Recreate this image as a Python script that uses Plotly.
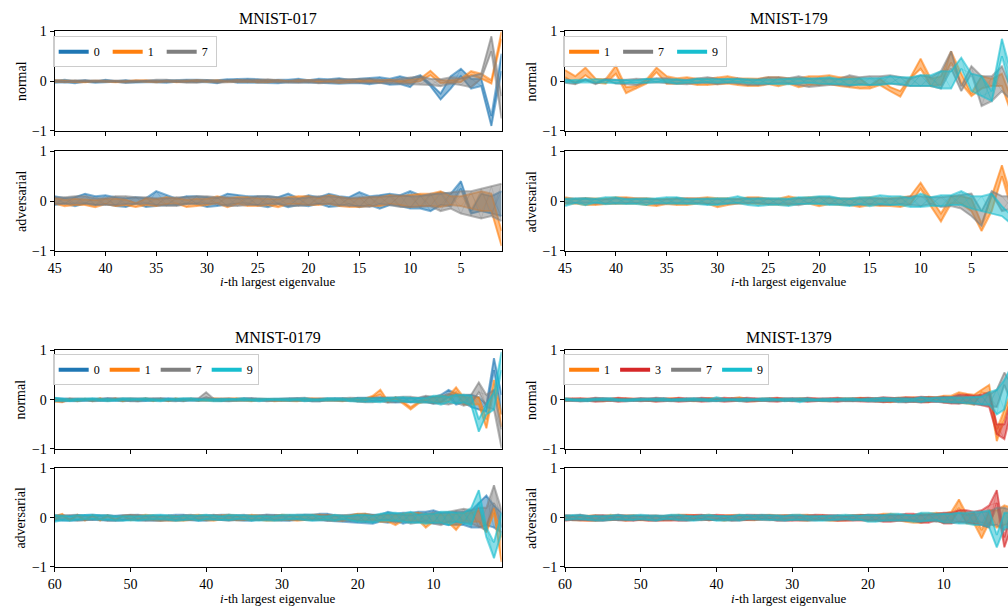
import plotly.graph_objects as go

W, H = 1008, 614
COL = {'0': '#1f77b4', '1': '#ff7f0e', '3': '#d62728', '7': '#7f7f7f', '9': '#17becf'}
FONT = 'Liberation Serif, Times New Roman, serif'

# eigenvalue index (i-th largest), left to right
X45 = list(range(45, 0, -1))
X60 = list(range(60, 0, -1))

# ---- MNIST-017 (values in hundredths) ----
A_N_0A = [-3,-2,-4,-1,-3, -2,0,-3,-1,-2, 1,-3,2,-1,3, -2,2,4,-3,5, -3,2,-4,3,-2, 2,-3,4,-5,3, -4,6,-3,5,-6, 5,8,-10,-37,-15, 25,5,-10,-90,55]
A_N_0B = [1,3,0,2,-1, 3,-1,2,-2,1, -2,2,-1,3,-2, 3,-4,1,5,-3, 4,-3,3,-2,5, -3,5,-4,6,-4, 5,-6,8,-7,10, -12,12,-5,-25,10, 10,-15,5,-70,20]
A_N_1A = [2,-1,1,-2,0, 1,-2,0,2,-1, 0,1,-2,1,0, -1,2,-1,0,1, -2,1,0,-1,2, 0,-2,1,-3,2, 1,-1,2,0,-2, 3,5,21,2,-3, 5,12,15,-5,100]
A_N_1B = [-1,1,-2,0,1, -1,1,-1,0,2, -2,0,1,-1,2, 1,-1,0,2,-1, 1,-2,2,0,-1, 2,1,-1,2,-2, -1,2,-2,3,1, -3,0,12,-4,2, -2,20,5,2,85]
A_N_7A = [0,-2,2,-1,1, -2,1,-3,2,0, -2,3,-1,-3,2, 0,-3,2,-1,3, -2,4,-2,1,-3, 2,-4,3,-2,4, -3,5,-4,2,-5, 8,-6,5,-10,8, -8,10,15,90,-75]
A_N_7B = [2,0,-1,2,-2, 1,-1,2,-2,1, 3,-2,1,2,-3, 2,1,-2,3,-1, 3,-1,2,-3,2, -2,3,-3,4,-2, 4,-3,3,-4,5, -6,10,-8,4,-5, 6,-12,5,60,-30]
A_A_0A = [10,-5,8,15,-8, 12,-10,6,8,-12, 20,-8,5,10,-6, 8,-10,15,12,-5, 10,-12,8,15,-8, 12,-5,15,-10,8, 18,-8,12,15,-10, 20,-15,12,18,-10, 40,-20,15,10,-30]
A_A_0B = [-8,6,-10,-5,10, -6,8,-12,-5,6, -10,12,-8,-5,10, -12,6,-8,-5,10, -8,10,-6,-12,6, -10,8,-12,10,-6, -12,10,-15,-8,12, -15,12,-20,-8,15, 25,-25,-20,-25,20]
A_A_1A = [-5,-10,5,-8,-12, 5,-10,-8,-12,6, -10,8,-5,-12,5, -8,10,-12,-6,8, -10,5,-12,8,-6, 10,-8,12,-10,5, -12,8,-10,12,-8, -12,15,-10,20,-8, 10,-15,20,-20,-90]
A_A_1B = [6,3,-8,4,2, -6,5,3,-4,-8, 4,-6,6,3,-10, 5,-4,6,8,-10, 6,-8,4,-6,10, -8,6,-5,8,-12, 6,-10,8,-6,10, 12,-10,15,-12,10, -10,15,-20,15,-60]
A_A_7A = [8,-6,10,-5,6, -8,10,-6,8,-5, 6,-10,8,-6,10, -5,8,-10,6,-8, 10,-6,8,-10,5, -8,10,-6,8,-10, 8,-12,10,-8,12, 10,-12,15,-20,18, -25,20,-35,30,-40]
A_A_7B = [-6,8,-5,10,-8, 6,-8,10,-6,8, -8,6,-10,8,-5, 10,-6,8,-10,6, -8,10,-5,6,-10, 8,-6,10,-8,6, -10,8,-6,10,-12, -12,10,-10,15,-15, 20,-30,25,-30,35]

# ---- MNIST-179 ----
B_N_1A = [22,10,27,5,-5, 31,-24,-10,-5,27, 10,-5,8,-8,5, -6,10,-8,5,-10, 8,-10,6,-12,10, -8,12,-10,8,-15, -10,-8,-20,-31,5, 45,-10,10,37,15, -30,-15,5,-10,-70]
B_N_1B = [8,-5,12,-3,4, 15,-12,-15,3,18, -5,6,-4,5,-8, 8,-5,6,-10,5, -6,8,-5,6,-8, 10,-6,8,-12,6, -15,5,-12,-20,8, 25,5,-8,60,-5, -25,10,-10,15,-40]
B_N_7A = [-3,-6,2,-4,5, -5,3,-8,4,-2, 6,-5,3,-4,8, 5,-3,6,-8,4, -6,8,-4,10,-12, 6,-8,5,-10,8, 10,-6,12,-8,5, -10,8,-15,60,-10, 30,-50,10,-20,-40]
B_N_7B = [5,-2,4,-6,2, 3,-6,5,-3,6, -4,3,-6,5,-3, -6,4,-5,3,-8, 8,-4,6,-8,5, -10,6,-8,12,-6, -8,10,-5,8,-10, 12,-10,20,25,-20, 15,10,-40,30,-20]
B_N_9A = [2,-3,4,-2,3, -4,2,-3,5,-2, 3,-5,2,-3,4, -3,5,-2,4,-5, 3,-6,5,-4,6, -5,8,-6,5,-8, 6,-8,10,-6,8, -10,12,-15,20,47, -20,10,-40,85,-30]
B_N_9B = [-2,3,-2,4,-3, 3,-4,2,-3,4, -2,4,-3,5,-2, 4,-3,5,-4,3, -5,4,-6,5,-3, 6,-5,4,-8,6, -8,6,-5,8,-10, 12,-10,20,-15,25, 15,-30,-20,50,10]
B_A_1A = [8,-5,6,-8,5, -6,8,-5,6,-10, 5,-8,6,-5,8, -12,6,-5,8,-6, 5,-8,10,-6,8, -10,6,-8,5,-12, 8,-10,6,-12,10, 37,-10,-41,10,-5, -20,-60,10,72,-20]
B_A_1B = [-6,4,-8,5,-6, 8,-5,6,-8,4, -6,5,-8,6,-5, 6,-8,4,-5,8, -6,5,-8,6,-5, 8,-6,5,-8,6, -8,6,-10,8,-6, 25,5,-25,-5,10, 5,-45,-20,50,5]
B_A_7A = [5,-3,6,-5,4, -5,6,-4,5,-6, 4,-5,6,-4,5, -6,4,-5,6,-4, 5,-6,4,-8,6, -5,8,-6,5,-8, 6,-8,5,-6,10, -10,8,-12,10,-15, -30,-50,15,-20,10]
B_A_7B = [-4,5,-3,4,-5, 6,-4,5,-3,4, -5,6,-4,5,-6, 4,-6,5,-4,6, -6,4,-5,6,-4, 8,-5,6,-8,5, -6,5,-8,6,-8, 10,-6,8,-10,12, 15,-20,20,10,-15]
B_A_9A = [-10,6,-8,5,-6, 8,-6,5,-8,6, -5,8,-6,5,-8, 6,-5,10,-8,6, -8,6,-10,8,-6, 10,-8,6,-10,8, -10,12,-8,10,-12, 15,-10,12,-8,20, -15,10,-25,-30,-47]
B_A_9B = [5,-4,6,-3,8, -5,4,-6,5,-4, 8,-5,4,-6,5, -8,6,-4,5,-10, 6,-8,5,-6,8, -6,10,-8,5,-6, 8,-6,10,-8,6, -12,8,-10,12,-8, 10,-20,15,-10,-30]

# ---- MNIST-0179 ----
C_N_0A = [3,-2,2,-3,1,-2,3,-1,2,-3, 2,-3,1,-2,3,-1,2,-3,1,-2, 3,-2,1,-3,2,-1,3,-2,2,-1, -2,3,-1,2,-3,2,-1,3,-2,1, -3,4,-2,5,-4,3,-5,4,-3,6, 5,-5,20,-10,8,-15,-20,-10,84,10]
C_N_0B = [-1,2,-3,1,-2,2,-1,3,-2,1, -2,1,-3,2,-1,3,-2,1,-1,2, -1,2,-3,1,-2,3,-2,1,-1,2, 2,-1,3,-2,1,-3,2,-2,3,-1, 4,-3,5,-2,3,-6,4,-5,3,-4, -8,10,5,12,-6,10,5,-25,60,-30]
C_N_1A = [-4,-3,2,-2,1,-3,2,-1,3,-2, 1,-2,3,-1,2,-3,1,-2,2,-1, -2,3,-1,2,-2,1,-3,2,-1,2, 1,-2,2,-1,3,-2,1,-2,2,-1, -3,2,5,20,-3,5,-4,-20,-8,3, -6,8,-4,25,-10,5,-10,-58,40,-55]
C_N_1B = [2,-5,1,-3,2,-1,3,-2,1,-3, 2,-1,2,-3,1,-2,3,-1,1,-2, 1,-2,2,-1,3,-2,1,-1,2,-3, -2,1,-3,2,-1,2,-2,1,-3,2, 2,-3,8,10,-5,3,-8,-15,-5,-3, 5,-5,8,15,5,-10,5,-40,20,-30]
C_N_7A = [-2,-4,3,-1,2,-3,1,-2,3,-1, -3,2,-1,3,-2,1,-3,2,-1,3, 15,-1,3,-2,1,-2,3,-1,2,-2, -1,3,-2,4,-3,2,-1,3,-2,4, -4,3,-5,4,-6,5,-3,6,-5,8, -8,6,-10,8,-12,10,35,-15,20,-98]
C_N_7B = [3,1,-2,2,-1,2,-2,3,-1,2, 2,-3,2,-1,3,-2,2,-1,3,-2, 5,2,-2,3,-2,3,-1,2,-3,1, 2,-2,3,-1,2,-3,2,-2,3,-2, 3,-5,4,-3,5,-4,6,-5,4,-6, 6,-8,12,-6,10,-8,15,10,-20,-60]
C_N_9A = [4,-2,-3,2,-1,3,-2,1,-2,3, -1,2,-2,1,-3,2,-1,3,-2,1, -2,1,-3,2,-1,3,-2,2,-1,2, 1,-2,2,-3,1,-2,3,-1,2,-3, 3,-4,2,-5,4,-3,5,-6,4,-5, 8,-10,6,-8,10,-12,-65,-30,-20,97]
C_N_9B = [-3,2,1,-2,3,-1,2,-3,1,-1, 2,-1,3,-2,1,-1,2,-2,3,-1, 1,-3,2,-1,2,-2,1,-3,2,-1, -2,2,-1,3,-2,1,-2,3,-1,2, -4,3,-4,3,-2,5,-4,4,-6,3, -6,8,-5,10,-6,8,-40,-10,15,60]
C_A_0A = [5,-6,4,-5,6,-4,5,-6,4,-5, 6,-5,4,-6,5,-4,6,-5,4,-6, 5,-4,6,-5,4,-6,5,-4,6,-5, -6,5,-4,6,-5,8,-6,5,-8,6, 8,-10,6,-8,12,-6,10,-8,12,-10, 15,-12,10,-15,12,-20,30,45,-20,10]
C_A_0B = [-5,4,-6,5,-4,6,-5,4,-6,5, -4,6,-5,4,-6,5,-4,6,-5,4, -6,5,-4,6,-5,4,-6,5,-4,6, 5,-6,4,-5,6,-5,8,-6,5,-8, -10,8,-12,6,-10,8,-12,10,-8,12, -12,10,-15,12,-15,15,-20,-15,25,-30]
C_A_1A = [3,8,-5,4,-6,5,-4,3,-5,4, -5,4,-3,5,-6,4,-5,3,-4,6, 4,-6,5,-3,4,-5,6,-4,3,-5, -4,5,-6,4,-3,6,-5,4,-6,5, 8,-6,5,-8,6,-15,8,-6,10,-20, 8,-10,6,-25,10,-8,15,-30,10,-90]
C_A_1B = [-4,3,-5,6,-4,3,-6,5,-4,3, 5,-3,6,-4,3,-5,4,-6,5,-3, -5,4,-3,6,-5,3,-4,5,-6,4, 6,-4,3,-5,6,-4,5,-6,4,-3, -6,8,-4,6,-8,5,-6,8,-5,6, -8,6,-10,8,-6,10,-8,-15,20,-40]
C_A_7A = [-4,5,-3,6,-5,4,-3,5,-6,4, -3,5,-6,4,-5,3,-6,5,-4,3, 5,-3,4,-6,5,-4,3,-5,6,-4, 3,-5,6,-4,5,-3,6,-5,4,-6, 5,-8,6,-5,8,-10,6,-12,8,-6, 10,-15,12,-10,18,-12,20,-25,66,-20]
C_A_7B = [4,-3,5,-6,3,-5,4,-6,3,-5, 6,-4,3,-5,4,-6,3,-4,6,-5, -4,6,-5,3,-4,6,-5,4,-3,5, -5,4,-3,6,-4,5,-6,4,-5,3, -6,5,-8,6,-4,8,-6,5,-10,8, -12,10,-8,15,-10,15,-18,20,30,15]
C_A_9A = [-8,4,-6,5,-3,6,-4,5,-6,3, 4,-6,5,-3,6,-4,3,-5,4,-6, -3,5,-4,6,-3,5,-6,4,-5,3, 6,-3,5,-4,6,-5,3,-6,4,-5, -8,6,-10,8,-6,10,-8,12,-10,8, -10,12,-15,10,-12,20,56,-20,-82,-30]
C_A_9B = [5,-5,3,-4,6,-3,5,-4,3,-6, -5,3,-4,6,-3,5,-6,4,-3,5, 6,-4,3,-5,6,-3,4,-5,3,-6, -4,6,-3,5,-6,3,-4,6,-3,4, 6,-8,4,-6,10,-6,8,-10,6,-12, 8,-10,12,-8,10,-15,30,-40,-50,10]

# ---- MNIST-1379 ----
D_N_1A = [-3,2,-1,2,-3,1,-2,3,-1,2, -2,1,-3,2,-1,3,-2,1,-2,3, -1,2,-2,5,-3,1,-2,3,-1,2, -2,3,-1,2,-3,2,-1,3,-2,4, 3,-4,2,-5,4,-3,5,-4,6,5, 8,-5,15,-8,10,20,30,-84,-20,10]
D_N_1B = [2,-1,3,-2,1,-3,2,-1,3,-1, 1,-3,2,-1,3,-2,1,-3,2,-1, 2,-1,3,-2,2,-3,2,-1,3,-2, 1,-2,3,-2,1,-3,2,-2,3,-1, -2,3,-4,3,-2,5,-4,3,-5,2, -5,8,-6,12,-10,15,10,-60,-40,20]
D_N_3A = [2,-3,3,-2,4,-3,2,-4,3,-2, 3,-2,4,-3,2,-4,3,-2,4,-3, 2,-4,3,-2,4,-3,2,-3,4,-2, 3,-2,4,-3,2,-3,4,-2,3,-4, 4,-3,5,-4,3,-5,4,-6,5,-4, 6,-8,10,-6,8,-12,15,-50,-80,10]
D_N_3B = [-2,3,-3,2,-4,3,-2,4,-3,2, -3,2,-4,3,-2,4,-3,2,-4,3, -2,4,-3,2,-4,3,-2,3,-4,2, -3,2,-4,3,-2,3,-4,2,-3,4, -4,3,-5,4,-3,5,-4,6,-5,4, -6,5,-8,10,-8,10,-15,-70,-50,-20]
D_N_7A = [-1,2,-3,1,-2,3,-1,2,-2,1, -2,3,-1,2,-3,1,-2,3,-1,2, -3,1,-2,3,-1,2,-3,1,-2,3, -1,2,-3,1,-2,3,-2,1,-3,2, -3,2,-4,3,-5,4,-3,5,-4,6, -6,5,-8,6,-10,8,-12,20,55,30]
D_N_7B = [2,-1,2,-2,3,-1,2,-3,1,-2, 3,-1,2,-2,1,-3,2,-1,3,-2, 1,-2,3,-1,2,-2,1,-3,2,-1, 3,-2,1,-2,3,-1,2,-3,2,-1, 3,-4,2,-3,4,-5,3,-4,5,-3, 5,-6,8,-5,6,-10,10,-15,30,-10]
D_N_9A = [3,-2,1,-3,2,-1,3,-2,1,-2, 2,-1,3,-2,1,-2,3,-1,2,-3, 5,-2,1,-3,2,-1,3,-2,1,-3, 2,-5,3,-2,1,-3,2,-1,3,-2, 2,-3,4,-2,3,-4,2,-5,3,-4, 5,-6,4,-8,6,-10,15,-30,40,70]
D_N_9B = [-2,1,-2,2,-1,3,-2,1,-3,2, -1,2,-2,3,-1,2,-1,3,-2,1, -3,2,-1,2,-3,1,-2,3,-1,2, -2,3,-2,1,-3,2,-1,3,-2,1, -3,4,-2,3,-4,2,-3,5,-2,4, -4,5,-6,5,-8,6,-10,20,-20,50]
D_A_1A = [4,-5,3,-6,5,-4,6,-3,5,-4, -5,4,-6,3,-5,6,-4,5,-3,6, 4,-6,5,-4,3,-5,6,-4,5,-3, -4,5,-6,4,-5,3,-6,5,-4,6, 5,-6,8,-5,6,-8,5,-10,8,-6, 8,-10,37,-12,10,-42,15,-20,25,-10]
D_A_1B = [-4,3,-5,4,-6,3,-5,4,-6,5, 3,-5,4,-6,5,-3,6,-4,5,-5, -3,5,-4,6,-5,4,-3,6,-4,5, 5,-4,6,-3,5,-6,4,-5,6,-4, -6,5,-6,8,-5,6,-10,8,-6,10, -10,12,20,8,-12,-25,-10,15,-15,20]
D_A_3A = [-6,4,-5,3,-6,5,-4,6,-5,4, 5,-6,4,-5,3,-6,5,-4,6,-5, -4,5,-6,4,-5,6,-3,5,-6,4, 5,-6,4,-5,6,-4,5,-6,4,-5, -5,6,-8,5,-6,8,-6,5,-10,8, -12,10,-8,15,-12,15,-20,56,-40,20]
D_A_3B = [5,-4,6,-5,4,-6,3,-5,4,-6, -4,5,-6,3,-5,4,-6,5,-3,4, 6,-3,4,-5,6,-4,5,-3,4,-6, -6,4,-5,6,-4,5,-6,3,-5,6, 6,-5,6,-8,5,-6,8,-10,6,-5, 10,-12,15,-10,12,-15,25,30,-60,-15]
D_A_7A = [3,-5,4,-3,5,-4,3,-5,4,-3, -4,3,-5,4,-3,5,-4,3,-5,4, 3,-5,4,-3,5,-4,3,-5,4,-3, -5,4,-3,5,-4,3,-5,4,-3,5, 4,-6,5,-4,6,-5,4,-6,5,-8, -6,8,-10,6,-8,12,-15,20,-25,15]
D_A_7B = [-3,4,-5,3,-4,5,-3,4,-5,3, 4,-5,3,-4,5,-3,4,-5,3,-4, -5,3,-4,5,-3,4,-5,3,-4,5, 4,-3,5,-4,3,-5,4,-3,5,-4, -5,4,-6,5,-4,6,-5,8,-6,5, 8,-6,10,-8,6,-10,12,-15,20,-20]
D_A_9A = [5,-3,6,-5,4,-6,5,-3,4,-5, 6,-4,5,-3,6,-5,4,-6,5,-3, -6,4,-5,6,-3,5,-4,6,-5,3, 6,-5,3,-6,4,-5,6,-3,5,-4, -8,5,-6,8,-5,6,-8,10,-6,8, -10,8,-12,10,-15,12,-20,-60,-20,10]
D_A_9B = [-5,6,-3,4,-6,3,-5,6,-4,5, -3,5,-6,4,-3,6,-5,3,-4,6, 4,-5,3,-6,5,-3,6,-4,5,-6, -4,6,-5,3,-6,4,-3,6,-5,4, 6,-8,5,-6,8,-6,5,-8,10,-5, 8,-10,10,-12,12,-15,15,-35,10,-20]

TITLES = ['MNIST-017', 'MNIST-179', 'MNIST-0179', 'MNIST-1379']
CLASSES = [['0', '1', '7'], ['1', '7', '9'], ['0', '1', '7', '9'], ['1', '3', '7', '9']]
XTICKS_45 = [45, 40, 35, 30, 25, 20, 15, 10, 5]
XTICKS_60 = [60, 50, 40, 30, 20, 10]

PANELS = [
    dict(x=X45, ticks=XTICKS_45,
         normal={'0': (A_N_0A, A_N_0B), '1': (A_N_1A, A_N_1B), '7': (A_N_7A, A_N_7B)},
         adv={'0': (A_A_0A, A_A_0B), '1': (A_A_1A, A_A_1B), '7': (A_A_7A, A_A_7B)}),
    dict(x=X45, ticks=XTICKS_45,
         normal={'1': (B_N_1A, B_N_1B), '7': (B_N_7A, B_N_7B), '9': (B_N_9A, B_N_9B)},
         adv={'1': (B_A_1A, B_A_1B), '7': (B_A_7A, B_A_7B), '9': (B_A_9A, B_A_9B)}),
    dict(x=X60, ticks=XTICKS_60,
         normal={'0': (C_N_0A, C_N_0B), '1': (C_N_1A, C_N_1B), '7': (C_N_7A, C_N_7B), '9': (C_N_9A, C_N_9B)},
         adv={'0': (C_A_0A, C_A_0B), '1': (C_A_1A, C_A_1B), '7': (C_A_7A, C_A_7B), '9': (C_A_9A, C_A_9B)}),
    dict(x=X60, ticks=XTICKS_60,
         normal={'1': (D_N_1A, D_N_1B), '3': (D_N_3A, D_N_3B), '7': (D_N_7A, D_N_7B), '9': (D_N_9A, D_N_9B)},
         adv={'1': (D_A_1A, D_A_1B), '3': (D_A_3A, D_A_3B), '7': (D_A_7A, D_A_7B), '9': (D_A_9A, D_A_9B)}),
]


def rgba(h, a):
    h = h.lstrip('#')
    return 'rgba(%d,%d,%d,%.3f)' % (int(h[0:2], 16), int(h[2:4], 16), int(h[4:6], 16), a)


def px(x):
    return x / W


def py(y):
    return 1 - y / H


# layout geometry (pixels)
COLX = [(48, 498), (562, 1008)]
ROWY = [[(25, 127), (148, 250)], [(352, 453), (473, 574)]]
XR = [[45, 1], [45, 1.4], [60, 1], [60, 1.52]]
LEGPOS = [(46, 30), (560, 30), (46, 356), (560, 356)]
LEGNAMES = ['legend', 'legend2', 'legend3', 'legend4']
LEG_ENTRYW = [9, 9, 6, 6]

fig = go.Figure()
layout = dict(width=W, height=H, margin=dict(l=0, r=0, t=0, b=0),
              paper_bgcolor='white', plot_bgcolor='white',
              font=dict(family=FONT, size=13, color='black'), showlegend=True)
annotations = []

for p, panel in enumerate(PANELS):
    prow, pcol = divmod(p, 2)
    x0, x1 = COLX[pcol]
    for r, key in enumerate(['normal', 'adv']):
        k = p * 2 + r + 1
        xa = 'x' if k == 1 else 'x%d' % k
        ya = 'y' if k == 1 else 'y%d' % k
        y0, y1 = ROWY[prow][r]
        series = panel[key]
        for c in CLASSES[p]:
            a, b = series[c]
            col = COL[c]
            ya_v = [v / 100 for v in a]
            yb_v = [v / 100 for v in b]
            lo = [min(u, w) for u, w in zip(ya_v, yb_v)]
            hi = [max(u, w) for u, w in zip(ya_v, yb_v)]
            # band spanned by the pair of curves
            fig.add_trace(go.Scatter(x=panel['x'], y=lo, xaxis=xa, yaxis=ya, mode='lines',
                                     line=dict(width=2, color=rgba(col, 0.55)),
                                     showlegend=False, hoverinfo='skip'))
            fig.add_trace(go.Scatter(x=panel['x'], y=hi, xaxis=xa, yaxis=ya, mode='lines',
                                     line=dict(width=2, color=rgba(col, 0.55)),
                                     fill='tonexty', fillcolor=rgba(col, 0.5),
                                     showlegend=False, hoverinfo='skip'))
            for yy in (ya_v, yb_v):
                fig.add_trace(go.Scatter(x=panel['x'], y=yy, xaxis=xa, yaxis=ya,
                                         mode='lines', line=dict(color=rgba(col, 0.25), width=1),
                                         showlegend=False, hoverinfo='skip'))
        axis_common = dict(showline=True, linecolor='black', linewidth=1, ticks='outside',
                           ticklen=4, tickwidth=1, tickcolor='black', showgrid=False,
                           zeroline=False, tickfont=dict(family=FONT, size=14, color='black'))
        layout['xaxis' if k == 1 else 'xaxis%d' % k] = dict(
            domain=[px(x0), px(x1)], range=XR[p], anchor=ya, mirror=True,
            tickmode='array', tickvals=panel['ticks'], showticklabels=(r == 1), **axis_common)
        layout['yaxis' if k == 1 else 'yaxis%d' % k] = dict(
            domain=[py(y1), py(y0)], range=[-1, 1], anchor=xa, mirror=(pcol == 0),
            tickmode='array', tickvals=[-1, 0, 1], **axis_common)
        ylab = 'normal' if r == 0 else 'adversarial'
        annotations.append(dict(text=ylab, x=px(14 if pcol == 0 else 528), y=py((y0 + y1) / 2),
                                xref='paper', yref='paper', textangle=-90, showarrow=False,
                                font=dict(family=FONT, size=14), xanchor='center', yanchor='middle'))
    # title and x label
    cx = (COLX[pcol][0] + COLX[pcol][0] + 450) / 2
    ty = 12 if prow == 0 else 339
    annotations.append(dict(text=TITLES[p], x=px(cx), y=py(ty), xref='paper', yref='paper',
                            showarrow=False, font=dict(family=FONT, size=16),
                            xanchor='center', yanchor='middle'))
    ly = 281 if prow == 0 else 606
    annotations.append(dict(text='<i>i</i>-th largest eigenvalue', x=px(cx), y=py(ly),
                            xref='paper', yref='paper', showarrow=False,
                            font=dict(family=FONT, size=13), xanchor='center', yanchor='middle'))
    # legend
    lname = LEGNAMES[p]
    for c in CLASSES[p]:
        fig.add_trace(go.Scatter(x=[None], y=[None], xaxis='x' if p == 0 else 'x%d' % (p * 2 + 1),
                                 yaxis='y' if p == 0 else 'y%d' % (p * 2 + 1),
                                 mode='lines', line=dict(color=COL[c], width=4), name=c,
                                 legend=lname, showlegend=True))
    lx, lyy = LEGPOS[p]
    layout[lname] = dict(x=px(lx), y=py(lyy), xanchor='left', yanchor='top', orientation='h',
                         bgcolor='rgba(255,255,255,0.8)', bordercolor='#cccccc', borderwidth=1,
                         font=dict(family=FONT, size=12), itemwidth=30, traceorder='normal',
                         entrywidth=LEG_ENTRYW[p], entrywidthmode='pixels', tracegroupgap=0)

layout['annotations'] = annotations
fig.update_layout(**layout)
fig.write_html('out.html')
